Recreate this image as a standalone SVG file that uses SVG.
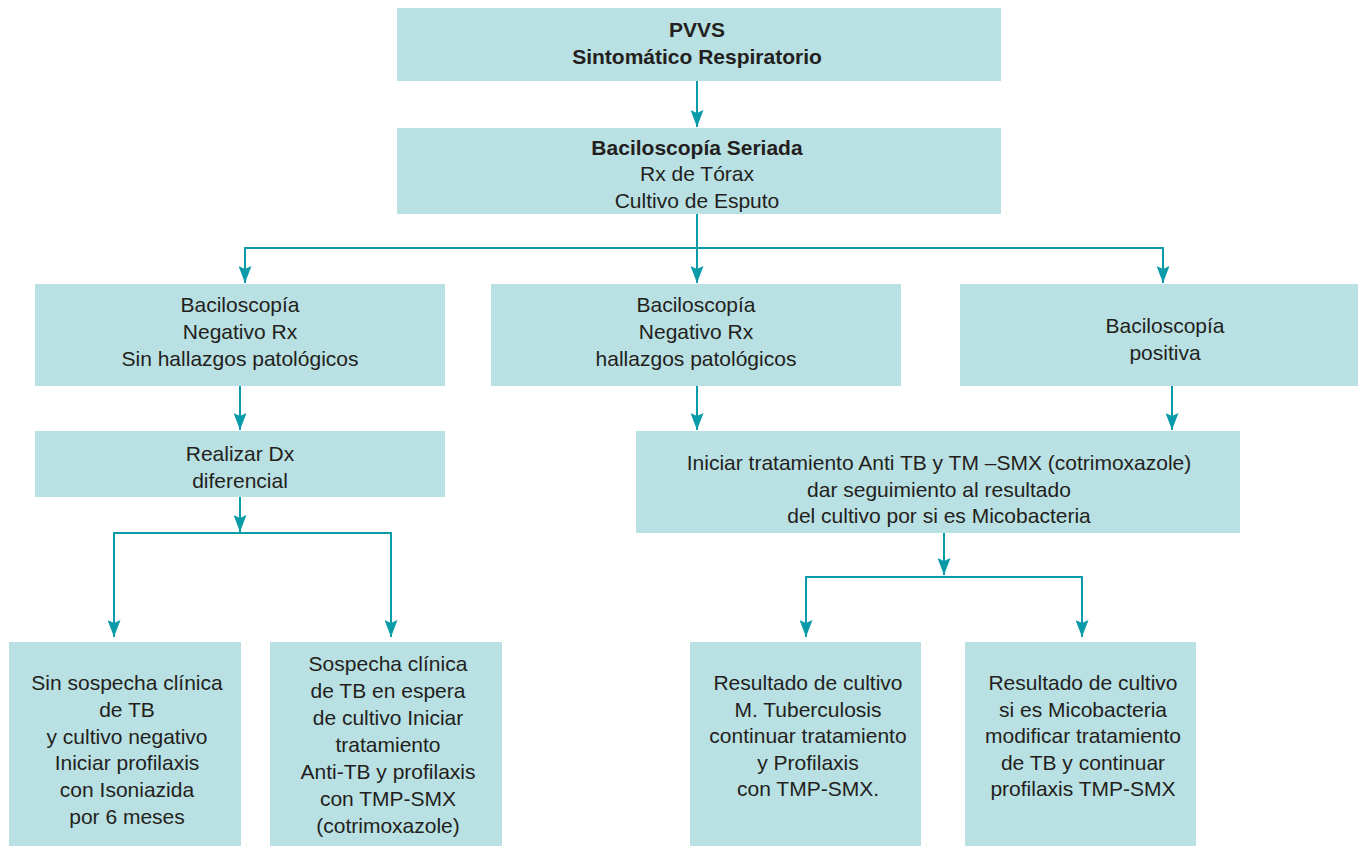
<svg xmlns="http://www.w3.org/2000/svg" width="1358" height="846" viewBox="0 0 1358 846">
<style>
.box{fill:#b9e0e2}
.t{font-family:"Liberation Sans",Arial,sans-serif;font-size:21px;fill:#231f20;text-anchor:middle}
.b{font-weight:bold}
.c{fill:none;stroke:#0a9ba8;stroke-width:2}
</style>
<defs>
<marker id="ah" viewBox="0 0 17 13" refX="17" refY="6.5" markerWidth="17" markerHeight="13" markerUnits="userSpaceOnUse" orient="auto">
<path d="M0,0 L17,6.5 L0,13 L3,6.5 Z" fill="#0a9ba8"/>
</marker>
</defs>
<rect width="1358" height="846" fill="#ffffff"/>
<g id="connectors">
<path class="c" d="M697,81 V127" marker-end="url(#ah)"/>
<path class="c" d="M697,214 V283" marker-end="url(#ah)"/>
<path class="c" d="M245,248 H1163"/>
<path class="c" d="M245,247 V283" marker-end="url(#ah)"/>
<path class="c" d="M1163,247 V283" marker-end="url(#ah)"/>
<path class="c" d="M240,386 V430" marker-end="url(#ah)"/>
<path class="c" d="M240,497 V532" marker-end="url(#ah)"/>
<path class="c" d="M114,533 H391"/>
<path class="c" d="M114,532 V637" marker-end="url(#ah)"/>
<path class="c" d="M391,532 V637" marker-end="url(#ah)"/>
<path class="c" d="M697,386 V430" marker-end="url(#ah)"/>
<path class="c" d="M1172,386 V430" marker-end="url(#ah)"/>
<path class="c" d="M944,533 V575" marker-end="url(#ah)"/>
<path class="c" d="M806,577 H1082"/>
<path class="c" d="M806,576 V637" marker-end="url(#ah)"/>
<path class="c" d="M1082,576 V637" marker-end="url(#ah)"/>
</g>
<g id="n1"><rect class="box" x="397" y="8" width="604" height="73"/>
<text class="t b" x="697" y="37">PVVS</text>
<text class="t b" x="697" y="64">Sintomático Respiratorio</text></g>
<g id="n2"><rect class="box" x="397" y="128" width="604" height="86"/>
<text class="t b" x="697" y="155">Baciloscopía Seriada</text>
<text class="t" x="697" y="181">Rx de Tórax</text>
<text class="t" x="697" y="208">Cultivo de Esputo</text></g>
<g id="n3"><rect class="box" x="35" y="284" width="410" height="102"/>
<text class="t" x="240" y="312">Baciloscopía</text>
<text class="t" x="240" y="339">Negativo Rx</text>
<text class="t" x="240" y="366">Sin hallazgos patológicos</text></g>
<g id="n4"><rect class="box" x="491" y="284" width="410" height="102"/>
<text class="t" x="696" y="312">Baciloscopía</text>
<text class="t" x="696" y="339">Negativo Rx</text>
<text class="t" x="696" y="366">hallazgos patológicos</text></g>
<g id="n5"><rect class="box" x="960" y="284" width="398" height="102"/>
<text class="t" x="1165" y="333">Baciloscopía</text>
<text class="t" x="1165" y="360">positiva</text></g>
<g id="n6"><rect class="box" x="35" y="431" width="410" height="66"/>
<text class="t" x="240" y="461">Realizar Dx</text>
<text class="t" x="240" y="488">diferencial</text></g>
<g id="n7"><rect class="box" x="636" y="431" width="604" height="102"/>
<text class="t" x="939" y="470">Iniciar tratamiento Anti TB y TM –SMX (cotrimoxazole)</text>
<text class="t" x="939" y="497">dar seguimiento al resultado</text>
<text class="t" x="939" y="523">del cultivo por si es Micobacteria</text></g>
<g id="n8"><rect class="box" x="9" y="642" width="232" height="204"/>
<text class="t" x="127" y="690">Sin sospecha clínica</text>
<text class="t" x="127" y="717">de TB</text>
<text class="t" x="127" y="744">y cultivo negativo</text>
<text class="t" x="127" y="770">Iniciar profilaxis</text>
<text class="t" x="127" y="797">con Isoniazida</text>
<text class="t" x="127" y="824">por 6 meses</text></g>
<g id="n9"><rect class="box" x="270" y="642" width="232" height="204"/>
<text class="t" x="388" y="671">Sospecha clínica</text>
<text class="t" x="388" y="698">de TB en espera</text>
<text class="t" x="388" y="725">de cultivo Iniciar</text>
<text class="t" x="388" y="752">tratamiento</text>
<text class="t" x="388" y="779">Anti-TB y profilaxis</text>
<text class="t" x="388" y="806">con TMP-SMX</text>
<text class="t" x="388" y="833">(cotrimoxazole)</text></g>
<g id="n10"><rect class="box" x="690" y="642" width="231" height="204"/>
<text class="t" x="808" y="690">Resultado de cultivo</text>
<text class="t" x="808" y="717">M. Tuberculosis</text>
<text class="t" x="808" y="743">continuar tratamiento</text>
<text class="t" x="808" y="770">y Profilaxis</text>
<text class="t" x="808" y="796">con TMP-SMX.</text></g>
<g id="n11"><rect class="box" x="965" y="642" width="231" height="204"/>
<text class="t" x="1083" y="690">Resultado de cultivo</text>
<text class="t" x="1083" y="717">si es Micobacteria</text>
<text class="t" x="1083" y="743">modificar tratamiento</text>
<text class="t" x="1083" y="770">de TB y continuar</text>
<text class="t" x="1083" y="796">profilaxis TMP-SMX</text></g>
</svg>
